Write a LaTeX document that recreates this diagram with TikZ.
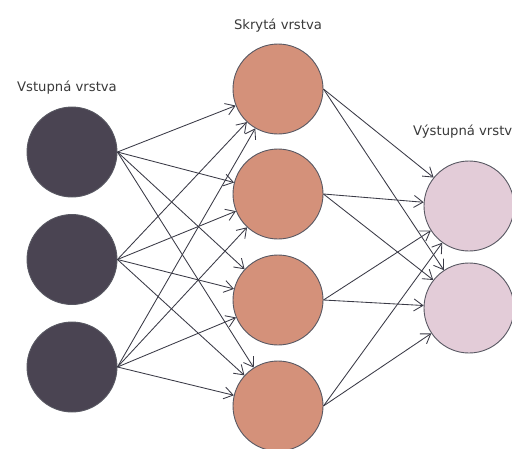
\documentclass[tikz,border=0pt]{standalone}
\usepackage{fontspec}
\setmainfont{DejaVu Sans}
\usetikzlibrary{arrows.meta}
\definecolor{inp}{HTML}{4A4452}
\definecolor{hid}{HTML}{D4917A}
\definecolor{outc}{HTML}{E3CCD8}
\definecolor{edge}{HTML}{3A3A46}
\definecolor{txt}{HTML}{3A3A3A}
\tikzset{
  neuron/.style={circle, draw=edge!85, line width=0.9pt, minimum size=90pt, inner sep=0pt},
  inneuron/.style={neuron, fill=inp},
  hidneuron/.style={neuron, fill=hid},
  outneuron/.style={neuron, fill=outc},
  conn/.style={draw=edge, line width=0.85pt, -{Straight Barb[length=9pt,width=12pt,line width=0.85pt]}},
  lbl/.style={font=\fontsize{13.2}{15}\selectfont, text=txt, inner sep=0pt}
}
\begin{document}
\begin{tikzpicture}[x=1pt,y=-1pt]
\clip (0,0) rectangle (512,448);
\fill[white] (0,0) rectangle (512,448);
\node[inneuron] (i1) at (72,152) {};
\node[inneuron] (i2) at (72,259.5) {};
\node[inneuron] (i3) at (72,367) {};
\node[hidneuron] (h1) at (278,89) {};
\node[hidneuron] (h2) at (278,194) {};
\node[hidneuron] (h3) at (278,300) {};
\node[hidneuron] (h4) at (278,406) {};
\node[outneuron] (o1) at (469,206) {};
\node[outneuron] (o2) at (469,308) {};
\node[lbl] (l1) at (67,88) {Vstupná vrstva};
\node[lbl] (l2) at (278,26) {Skrytá vrstva};
\node[lbl, anchor=west] (l3) at (413,132) {Výstupná vrstva};
\foreach \i in {1,2,3}{
  \foreach \h in {1,2,3,4}{
    \draw[conn] (i\i.east) -- (h\h);
  }
}
\foreach \h in {1,2,3,4}{
  \foreach \o in {1,2}{
    \draw[conn] (h\h.east) -- (o\o);
  }
}
\end{tikzpicture}
\end{document}
